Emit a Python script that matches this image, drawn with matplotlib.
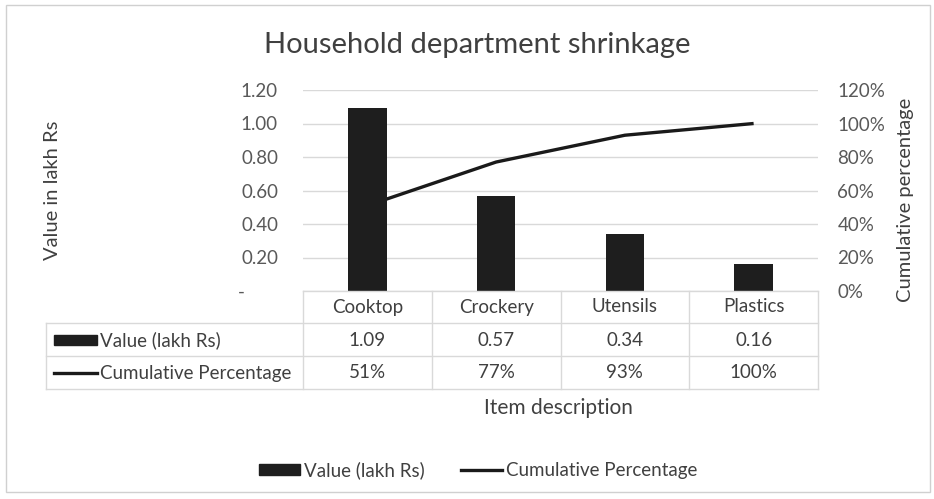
import matplotlib.pyplot as plt
import matplotlib.transforms as mtransforms
from matplotlib.patches import Rectangle, Patch
from matplotlib.lines import Line2D

plt.rcParams['font.family'] = ['Lato', 'DejaVu Sans']

# data
items = ['Cooktop', 'Crockery', 'Utensils', 'Plastics']
values = [1.09, 0.57, 0.34, 0.16]
cum_pct = [0.51, 0.77, 0.93, 1.00]
value_labels = ['1.09', '0.57', '0.34', '0.16']
pct_labels = ['51%', '77%', '93%', '100%']
left_ticks = [0, 0.2, 0.4, 0.6, 0.8, 1.0, 1.2]

W, H = 934, 499
def fx(x):
    return x / W
def fy(y):
    return 1 - y / H

txt = '#404040'
tick_col = '#595959'
grid_col = '#d9d9d9'
bar_col = '#1e1e1e'
fs = 13.5

fig = plt.figure(figsize=(W / 100, H / 100), dpi=100)
fig.patch.set_facecolor('white')

# outer frame
fig.add_artist(Rectangle((fx(6), fy(492)), fx(930) - fx(6), fy(5) - fy(492),
                         transform=fig.transFigure, fill=False, ec='#d0d0d0', lw=1))

ax2 = fig.add_axes([fx(303), fy(291), fx(818) - fx(303), fy(90) - fy(291)])
ax = ax2.twinx()
ax.set_zorder(ax2.get_zorder() + 1)
ax.patch.set_visible(False)

x = list(range(len(items)))

# line on the percentage axis, bars above it
ax2.plot(x, cum_pct, color='#1a1a1a', lw=2.4, solid_capstyle='butt')
ax2.set_ylim(0, 1.2)
ax2.set_xlim(-0.5, 3.5)
ax2.set_yticks(left_ticks)
ax2.grid(axis='y', color=grid_col, lw=1)
ax2.set_axisbelow(True)

ax.bar(x, values, width=0.3, color=bar_col)
ax.set_ylim(0, 1.2)
ax.set_xlim(-0.5, 3.5)
ax.set_yticks(left_ticks)

# left labels on ax2 (bottom axes), right labels on ax
ax2.set_yticklabels(['-       '] + ['%.2f' % v for v in left_ticks[1:]])
ax.set_yticklabels(['%d%%' % round(v * 100) for v in left_ticks])
for a in (ax, ax2):
    for s in a.spines.values():
        s.set_visible(False)
    a.tick_params(axis='y', length=0, labelsize=fs, labelcolor=tick_col)
    a.set_xticks([])
ax2.tick_params(axis='y', pad=18)
ax.tick_params(axis='y', pad=14)

fig.text(fx(477), fy(45), 'Household department shrinkage', ha='center', va='center',
         fontsize=21, color=txt)
fig.text(fx(52), fy(190), 'Value in lakh Rs', rotation=90, ha='center', va='center',
         fontsize=14.5, color=txt)
fig.text(fx(905), fy(200), 'Cumulative percentage', rotation=90, ha='center', va='center',
         fontsize=14.5, color=txt)

# data table under the axes
bt = mtransforms.blended_transform_factory(ax.transData, fig.transFigure)
for b in [-0.5, 0.5, 1.5, 2.5, 3.5]:
    fig.add_artist(Line2D([b, b], [fy(291), fy(389)], transform=bt, color=grid_col, lw=1))
for yy in [291, 323, 356, 389]:
    x0 = 303 if yy == 291 else 46
    fig.add_artist(Line2D([fx(x0), fx(818)], [fy(yy), fy(yy)],
                          transform=fig.transFigure, color=grid_col, lw=1))
fig.add_artist(Line2D([fx(46), fx(46)], [fy(323), fy(389)],
                      transform=fig.transFigure, color=grid_col, lw=1))

for i in x:
    fig.text(i, fy(307), items[i], transform=bt, ha='center', va='center', fontsize=fs, color=txt)
    fig.text(i, fy(340), value_labels[i], transform=bt, ha='center', va='center', fontsize=fs, color=txt)
    fig.text(i, fy(373), pct_labels[i], transform=bt, ha='center', va='center', fontsize=fs, color=txt)

fig.add_artist(Rectangle((fx(54), fy(345)), fx(97) - fx(54), fy(335) - fy(345),
                         transform=fig.transFigure, color=bar_col))
fig.add_artist(Line2D([fx(54), fx(97)], [fy(373), fy(373)], transform=fig.transFigure,
                      color='#1a1a1a', lw=2.4))
fig.text(fx(100), fy(340), 'Value (lakh Rs)', ha='left', va='center', fontsize=fs, color=txt)
fig.text(fx(100), fy(373), 'Cumulative Percentage', ha='left', va='center', fontsize=fs, color=txt)

fig.text(fx(558), fy(408), 'Item description', ha='center', va='center', fontsize=15, color=txt)

handles = [Patch(color=bar_col), Line2D([], [], color='#1a1a1a', lw=2.4)]
fig.legend(handles, ['Value (lakh Rs)', 'Cumulative Percentage'], loc='center',
           bbox_to_anchor=(fx(478), fy(470)), ncol=2, frameon=False, fontsize=fs,
           handlelength=2.2, handleheight=0.55, handletextpad=0.2, columnspacing=1.9,
           labelcolor=txt)

fig.savefig('out.png', dpi=100)
